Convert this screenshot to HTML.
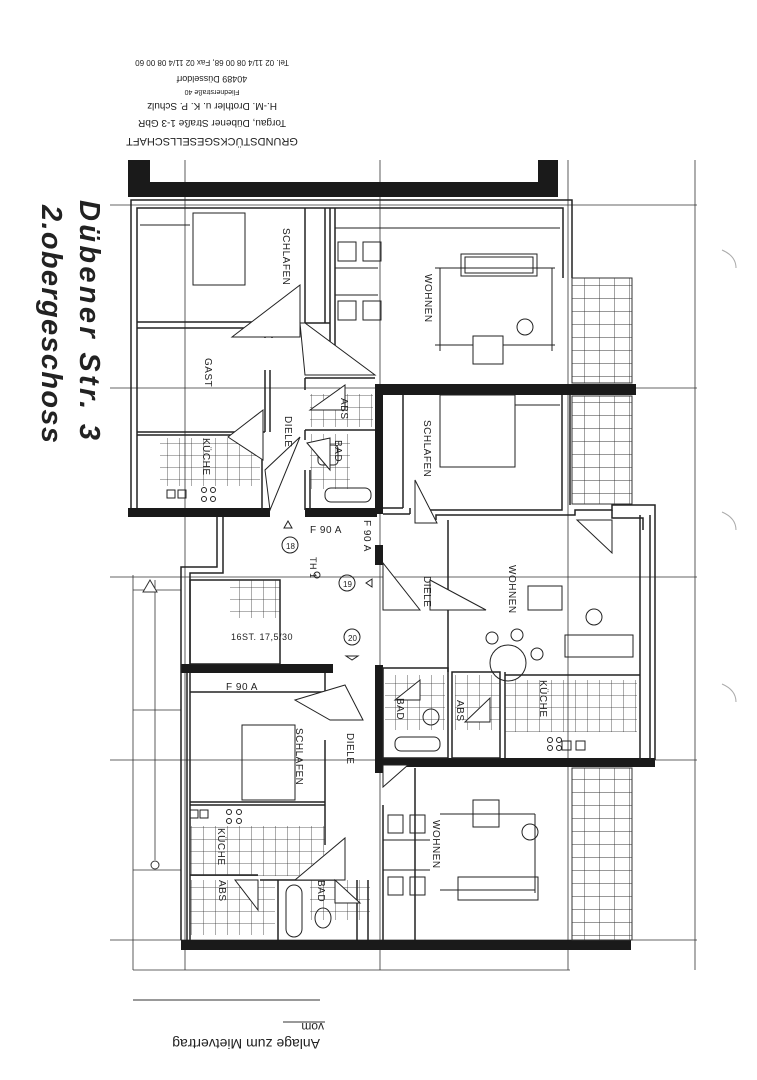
<!DOCTYPE html>
<html><head><meta charset="utf-8"><style>
html,body{margin:0;padding:0;background:#fff;}
svg{display:block;}
text{font-family:"Liberation Sans",sans-serif;fill:#222;}
.l{font-family:"Liberation Sans Narrow","Liberation Sans",sans-serif;font-size:10px;}
</style></head><body>
<svg width="757" height="1080" viewBox="0 0 757 1080" xmlns="http://www.w3.org/2000/svg">
<rect width="757" height="1080" fill="#fff"/>
<g transform="rotate(180 212 100)" font-size="10">
<text x="212" y="62" text-anchor="middle" font-size="11">GRUNDSTÜCKSGESELLSCHAFT</text>
<text x="212" y="80" text-anchor="middle">Torgau, Dübener Straße 1-3 GbR</text>
<text x="212" y="97" text-anchor="middle">H.-M. Drothler u. K. P. Schulz</text>
<text x="212" y="110" text-anchor="middle" font-size="7">Fliednerstraße 40</text>
<text x="212" y="124" text-anchor="middle" font-size="9">40489 Düsseldorf</text>
<text x="212" y="140" text-anchor="middle" font-size="8">Tel. 02 11/4 08 00 68, Fax 02 11/4 08 00 60</text>
</g>
<g font-family="'DejaVu Sans',sans-serif" font-size="29" font-weight="bold" font-style="italic" fill="#222">
<text transform="translate(80 200) rotate(90)" textLength="240">Dübener Str. 3</text>
<text transform="translate(42 205) rotate(90)" textLength="238">2.obergeschoss</text>
</g>
<g stroke="#333" stroke-width="0.8" fill="none">
<line x1="110" y1="205" x2="697" y2="205"/>
<line x1="110" y1="388" x2="697" y2="388"/>
<line x1="110" y1="577" x2="697" y2="577"/>
<line x1="110" y1="760" x2="697" y2="760"/>
<line x1="110" y1="940" x2="697" y2="940"/>
<line x1="185" y1="160" x2="185" y2="970"/>
<line x1="380" y1="160" x2="380" y2="970"/>
<line x1="568" y1="160" x2="568" y2="970"/>
<line x1="695" y1="160" x2="695" y2="970"/>
<line x1="133" y1="575" x2="133" y2="970"/>
<line x1="133" y1="590" x2="181" y2="590"/>
<line x1="133" y1="870" x2="181" y2="870"/>
<line x1="155" y1="580" x2="155" y2="860"/>
<line x1="133" y1="710" x2="181" y2="710"/>
<line x1="133" y1="970" x2="570" y2="970"/>
</g>
<polygon points="150,580 157,592 143,592" fill="#fff" stroke="#333"/>
<circle cx="155" cy="865" r="4" fill="#fff" stroke="#333"/>
<g fill="#1a1a1a">
<rect x="128" y="160" width="22" height="37"/>
<rect x="128" y="182" width="430" height="15"/>
<rect x="538" y="160" width="20" height="37"/>
<rect x="378" y="384" width="258" height="11"/>
<rect x="375" y="384" width="8" height="130"/>
<rect x="375" y="545" width="8" height="20"/>
<rect x="375" y="665" width="8" height="108"/>
<rect x="128" y="508" width="142" height="9"/>
<rect x="305" y="508" width="72" height="9"/>
<rect x="181" y="664" width="152" height="9"/>
<rect x="378" y="758" width="277" height="9"/>
<rect x="181" y="940" width="450" height="10"/>
</g>
<g stroke="#222" stroke-width="1.5" fill="none">
<polyline points="131,508 131,200 572,200 572,278"/>
<polyline points="137,508 137,208 563,208 563,278"/>
<line x1="137" y1="322" x2="275" y2="322"/>
<line x1="137" y1="328" x2="265" y2="328"/>
<line x1="265" y1="328" x2="265" y2="338"/>
<line x1="272" y1="322" x2="272" y2="338"/>
<line x1="137" y1="432" x2="265" y2="432"/>
<line x1="265" y1="370" x2="265" y2="432"/>
<line x1="270" y1="370" x2="270" y2="432"/>
<line x1="305" y1="208" x2="305" y2="323"/>
<line x1="325" y1="208" x2="325" y2="323"/>
<line x1="330" y1="208" x2="330" y2="353"/>
<line x1="335" y1="208" x2="335" y2="353"/>
<line x1="305" y1="323" x2="330" y2="323"/>
<line x1="305" y1="378" x2="375" y2="378"/>
<line x1="305" y1="378" x2="305" y2="390"/>
<line x1="305" y1="430" x2="375" y2="430"/>
<line x1="305" y1="430" x2="305" y2="440"/>
<line x1="305" y1="470" x2="305" y2="510"/>
<line x1="310" y1="470" x2="310" y2="510"/>
<line x1="137" y1="435" x2="262" y2="435"/>
<line x1="262" y1="435" x2="262" y2="510"/>
<line x1="403" y1="395" x2="403" y2="508"/>
<line x1="383" y1="508" x2="403" y2="508"/>
<line x1="383" y1="514" x2="410" y2="514"/>
<line x1="410" y1="508" x2="410" y2="514"/>
<polyline points="430,514 430,510 562,510 562,395"/>
<polyline points="436,520 436,515 575,515 575,510 612,510 612,505 655,505 655,760"/>
<polyline points="448,520 448,672"/>
<polyline points="570,395 570,505"/>
<line x1="640" y1="515" x2="640" y2="760"/>
<line x1="650" y1="515" x2="650" y2="760"/>
<polyline points="612,510 612,518 643,518 643,530"/>
<polyline points="217,517 217,567 181,567 181,940"/>
<polyline points="223,517 223,573 190,573 190,664"/>
<line x1="187" y1="673" x2="187" y2="940"/>
<line x1="190" y1="673" x2="190" y2="940"/>
<rect x="190" y="580" width="90" height="84"/>
<line x1="190" y1="692" x2="325" y2="692"/>
<line x1="325" y1="673" x2="325" y2="700"/>
<line x1="190" y1="802" x2="325" y2="802"/>
<line x1="190" y1="805" x2="325" y2="805"/>
<line x1="325" y1="740" x2="325" y2="845"/>
<line x1="190" y1="875" x2="258" y2="875"/>
<line x1="260" y1="880" x2="335" y2="880"/>
<line x1="278" y1="880" x2="278" y2="940"/>
<line x1="357" y1="880" x2="357" y2="940"/>
<line x1="368" y1="880" x2="368" y2="940"/>
<line x1="383" y1="805" x2="383" y2="940"/>
<rect x="383" y="668" width="65" height="90"/>
<rect x="452" y="672" width="48" height="86"/>
<line x1="505" y1="672" x2="505" y2="758"/>
<line x1="505" y1="675" x2="640" y2="675"/>
<line x1="415" y1="768" x2="415" y2="940"/>
</g>
<g stroke="#222" stroke-width="1" fill="none">
<rect x="193" y="213" width="52" height="72"/>
<line x1="140" y1="225" x2="190" y2="225"/>
<line x1="335" y1="228" x2="560" y2="228"/>
<rect x="461" y="254" width="76" height="22"/>
<rect x="465" y="257" width="68" height="16"/>
<polyline points="440,268 440,351"/><line x1="435" y1="268" x2="555" y2="268"/>
<line x1="435" y1="345" x2="555" y2="345"/><line x1="552" y1="268" x2="552" y2="351"/>
<rect x="473" y="336" width="30" height="28" fill="#fff"/>
<circle cx="525" cy="327" r="8"/>
<rect x="338" y="242" width="18" height="19"/><rect x="363" y="242" width="18" height="19"/>
<rect x="338" y="301" width="18" height="19"/><rect x="363" y="301" width="18" height="19"/>
<line x1="335" y1="268" x2="378" y2="268"/><line x1="335" y1="295" x2="378" y2="295"/>
<rect x="440" y="395" width="75" height="72"/>
<line x1="515" y1="405" x2="560" y2="405"/>
<rect x="528" y="586" width="34" height="24"/>
<circle cx="594" cy="617" r="8"/>
<rect x="565" y="635" width="68" height="22"/>
<circle cx="508" cy="663" r="18"/>
<circle cx="492" cy="638" r="6"/><circle cx="517" cy="635" r="6"/><circle cx="537" cy="654" r="6"/>
<rect x="242" y="725" width="53" height="75"/>
<rect x="190" y="810" width="8" height="8"/><rect x="200" y="810" width="8" height="8"/>
<circle cx="229" cy="812" r="2.5"/><circle cx="239" cy="812" r="2.5"/><circle cx="229" cy="821" r="2.5"/><circle cx="239" cy="821" r="2.5"/>
<rect x="167" y="490" width="8" height="8"/><rect x="178" y="490" width="8" height="8"/>
<circle cx="204" cy="490" r="2.5"/><circle cx="213" cy="490" r="2.5"/><circle cx="204" cy="499" r="2.5"/><circle cx="213" cy="499" r="2.5"/>
<rect x="562" y="741" width="9" height="9"/><rect x="576" y="741" width="9" height="9"/>
<circle cx="550" cy="740" r="2.5"/><circle cx="559" cy="740" r="2.5"/><circle cx="550" cy="748" r="2.5"/><circle cx="559" cy="748" r="2.5"/>
<rect x="473" y="800" width="26" height="27"/>
<circle cx="530" cy="832" r="8"/>
<line x1="440" y1="814" x2="535" y2="814"/><line x1="440" y1="890" x2="535" y2="890"/>
<line x1="535" y1="814" x2="535" y2="893"/>
<rect x="458" y="877" width="80" height="23"/>
<rect x="388" y="815" width="15" height="18"/><rect x="410" y="815" width="15" height="18"/>
<rect x="388" y="877" width="15" height="18"/><rect x="410" y="877" width="15" height="18"/>
<line x1="383" y1="840" x2="430" y2="840"/><line x1="383" y1="870" x2="430" y2="870"/>
<rect x="286" y="885" width="16" height="52" rx="8"/>
<ellipse cx="323" cy="918" rx="8" ry="10"/>
<rect x="318" y="445" width="20" height="20" rx="4"/>
<rect x="325" y="488" width="46" height="14" rx="6"/>
<ellipse cx="431" cy="717" rx="8" ry="8"/>
<rect x="395" y="737" width="45" height="14" rx="6"/>
</g>
<defs>
<pattern id="t" width="12" height="12" patternUnits="userSpaceOnUse">
<path d="M12 0V12M0 12H12" stroke="#333" stroke-width="0.8" fill="none"/>
</pattern>
<pattern id="b" width="15" height="13" patternUnits="userSpaceOnUse">
<path d="M15 0V13M0 13H15" stroke="#333" stroke-width="0.9" fill="none"/>
</pattern>
</defs>
<rect x="160" y="438" width="100" height="48" fill="url(#t)"/>
<rect x="310" y="394" width="63" height="33" fill="url(#t)"/>
<rect x="310" y="434" width="40" height="55" fill="url(#t)"/>
<rect x="385" y="675" width="60" height="55" fill="url(#t)"/>
<rect x="455" y="675" width="45" height="55" fill="url(#t)"/>
<rect x="505" y="680" width="132" height="52" fill="url(#t)"/>
<rect x="190" y="826" width="135" height="50" fill="url(#t)"/>
<rect x="190" y="880" width="85" height="55" fill="url(#t)"/>
<rect x="310" y="880" width="60" height="40" fill="url(#t)"/>
<rect x="230" y="580" width="50" height="38" fill="url(#t)"/>
<rect x="572" y="278" width="60" height="105" fill="url(#b)" stroke="#333"/>
<rect x="572" y="396" width="60" height="108" fill="url(#b)" stroke="#333"/>
<rect x="572" y="768" width="60" height="172" fill="url(#b)" stroke="#333"/>
<g stroke="#222" stroke-width="1" fill="#fff">
<polygon points="232,337 300,285 300,337"/>
<polygon points="300,323 305,323 375,375 305,375"/>
<polygon points="228,437 263,410 263,460"/>
<polygon points="270,510 265,470 300,437"/>
<polygon points="310,410 345,385 345,410"/>
<polygon points="307,443 330,438 330,470"/>
<polygon points="415,480 415,523 437,523"/>
<polygon points="577,520 612,553 612,520"/>
<polygon points="383,563 383,610 420,610"/>
<polygon points="430,580 486,610 430,610"/>
<polygon points="395,700 420,680 420,700"/>
<polygon points="465,722 490,698 490,722"/>
<polygon points="295,700 345,685 363,720 330,720"/>
<polygon points="295,880 345,838 345,880"/>
<polygon points="235,880 258,880 258,910"/>
<polygon points="383,765 408,765 383,787"/>
<polygon points="335,880 360,903 335,903"/>
</g>
<g class="l" font-size="10" letter-spacing="0.5">
<text transform="translate(283 228) rotate(90)">SCHLAFEN</text>
<text transform="translate(205 358) rotate(90)">GAST</text>
<text transform="translate(203 438) rotate(90)">KÜCHE</text>
<text transform="translate(285 416) rotate(90)">DIELE</text>
<text transform="translate(341 398) rotate(90)">ABS</text>
<text transform="translate(335 440) rotate(90)">BAD</text>
<text transform="translate(425 274) rotate(90)">WOHNEN</text>
<text transform="translate(424 420) rotate(90)">SCHLAFEN</text>
<text transform="translate(509 565) rotate(90)">WOHNEN</text>
<text transform="translate(424 576) rotate(90)">DIELE</text>
<text transform="translate(364 520) rotate(90)">F 90 A</text>
<text transform="translate(310 557) rotate(90)" font-size="9">TH 1</text>
<text transform="translate(397 698) rotate(90)">BAD</text>
<text transform="translate(457 700) rotate(90)">ABS</text>
<text transform="translate(540 680) rotate(90)">KÜCHE</text>
<text transform="translate(296 728) rotate(90)">SCHLAFEN</text>
<text transform="translate(347 733) rotate(90)">DIELE</text>
<text transform="translate(218 828) rotate(90)">KÜCHE</text>
<text transform="translate(219 880) rotate(90)">ABS</text>
<text transform="translate(318 880) rotate(90)">BAD</text>
<text transform="translate(433 820) rotate(90)">WOHNEN</text>
<text x="310" y="533">F 90 A</text>
<text x="226" y="690">F 90 A</text>
<text x="231" y="640" font-size="9">16ST. 17,5/30</text>
</g>
<g stroke="#222" stroke-width="1" fill="none">
<circle cx="290" cy="545" r="8"/><circle cx="347" cy="583" r="8"/><circle cx="352" cy="637" r="8"/>
<circle cx="317" cy="575" r="3"/>
<polygon points="288,529 284,522 292,522" transform="rotate(180 288 525)"/>
<polygon points="372,587 366,583 372,579"/>
<polygon points="352,660 346,656 358,656"/>
</g>
<text x="286" y="549" font-size="8">18</text>
<text x="343" y="587" font-size="8">19</text>
<text x="348" y="641" font-size="8">20</text>
<line x1="133" y1="1000" x2="320" y2="1000" stroke="#333"/>
<g transform="rotate(180 230 1020)" font-family="'Liberation Mono',monospace" font-size="14">
<text x="136" y="1017" font-size="12">vom</text>
<text x="140" y="1001">Anlage zum Mietvertrag</text>
</g>
<line x1="283" y1="1022" x2="325" y2="1022" stroke="#333"/>
<path d="M722 250 q14 6 14 18" stroke="#aaa" fill="none"/>
<path d="M722 512 q14 6 14 18" stroke="#aaa" fill="none"/>
<path d="M722 684 q14 6 14 18" stroke="#aaa" fill="none"/>
</svg>
</body></html>
